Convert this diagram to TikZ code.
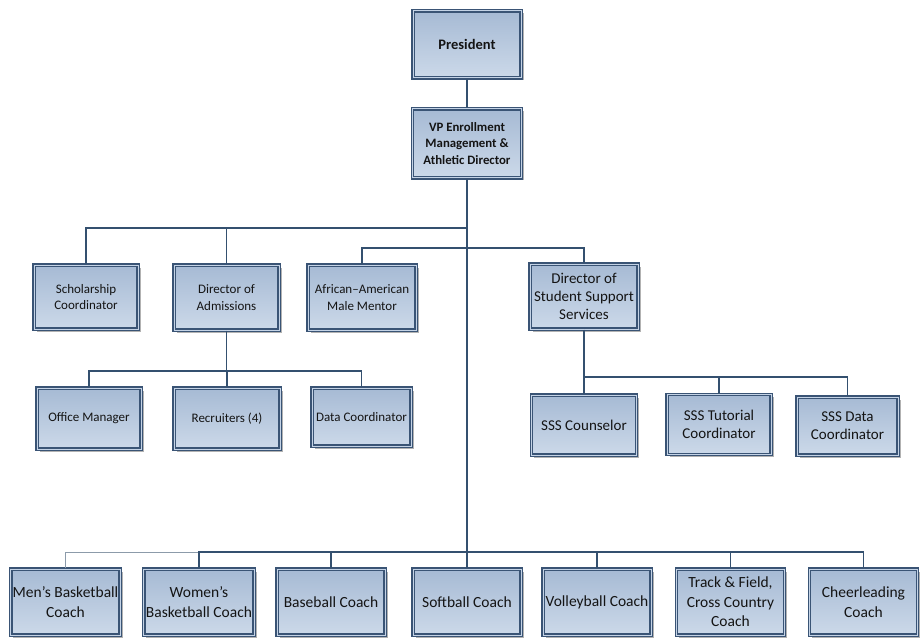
\documentclass[tikz,border=0pt]{standalone}
\usepackage{fontspec}
\setmainfont{Carlito}
\usetikzlibrary{shadows}
\definecolor{boxedge}{HTML}{3A5475}
\definecolor{boxcore}{HTML}{C4D3E6}
\definecolor{filltop}{HTML}{A6BAD4}
\definecolor{fillbot}{HTML}{CCD9E9}
\definecolor{linkcol}{HTML}{34506F}
\definecolor{faintcol}{HTML}{8C9BAA}
\tikzset{
  orgbox/.style={draw=boxedge, line width=1.3pt, double=boxcore, double distance=1pt,
    top color=filltop, bottom color=fillbot,
    drop shadow={shadow xshift=2.5pt, shadow yshift=-2.5pt, fill=black!50, opacity=0.6},
    align=center, inner sep=2pt, text=black!92},
  topbox/.style={orgbox, minimum width=108pt, minimum height=67pt, font=\fontsize{14.5}{17}\selectfont\bfseries},
  vpbox/.style={orgbox, minimum width=109pt, minimum height=69pt, font=\fontsize{12.8}{16.5}\selectfont\bfseries},
  midbox/.style={orgbox, minimum width=104pt, minimum height=64pt, font=\fontsize{13}{16.5}\selectfont},
  bigbox/.style={orgbox, minimum width=105pt, minimum height=60pt, font=\fontsize{15}{18}\selectfont},
  coachbox/.style={orgbox, minimum width=108pt, minimum height=66pt, font=\fontsize{15.5}{19.5}\selectfont},
  link/.style={draw=linkcol, line width=1.4pt},
  faintlink/.style={draw=faintcol, line width=1pt}
}
\begin{document}
\begin{tikzpicture}[x=1pt,y=-1pt]
\useasboundingbox (0,0) rectangle (921,639);
\fill[white] (0,0) rectangle (921,639);

% executive level
\node[topbox] (pres) at (467,44.5) {President};
\node[vpbox]  (vp)   at (467,143.5) {VP Enrollment\\Management \&\\Athletic Director};

% directors and coordinators
\node[midbox] (schol) at (86,297) {Scholarship\\Coordinator};
\node[midbox, minimum width=105pt, minimum height=65pt] (adm) at (226.5,297.5) {Director of\\Admissions};
\node[midbox, minimum width=108pt, minimum height=65pt] (afr) at (362,297.5) {African--American\\Male Mentor};
\node[bigbox, minimum width=108pt, minimum height=65pt] (sss) at (584,296.5) {Director of\\Student Support\\Services};

% admissions staff
\node[midbox, minimum width=104pt, minimum height=61pt] (offm) at (89,418.5) {Office Manager};
\node[midbox, minimum width=106pt, minimum height=61pt] (rec) at (227,418.5) {Recruiters (4)};
\node[midbox, minimum width=99pt, minimum height=58pt] (datac) at (361.5,417) {Data Coordinator};

% student support staff
\node[bigbox] (sssc) at (584,425) {SSS Counselor};
\node[bigbox, minimum width=104pt] (ssst) at (719,424.5) {SSS Tutorial\\Coordinator};
\node[bigbox, minimum width=101pt, minimum height=58pt] (sssd) at (847.5,426) {SSS Data\\Coordinator};

% coaching staff
\node[coachbox] (men)    at (65.5,602)  {Men’s Basketball\\Coach};
\node[coachbox] (women)  at (199,602)   {Women’s\\Basketball Coach};
\node[coachbox] (base)   at (331,602)   {Baseball Coach};
\node[coachbox] (soft)   at (467,602)   {Softball Coach};
\node[coachbox] (volley) at (597,602)   {Volleyball Coach};
\node[coachbox] (track)  at (730.5,602) {Track \& Field,\\Cross Country\\Coach};
\node[coachbox] (cheer)  at (863.5,602) {Cheerleading\\Coach};

% junctions of the connector tree
\coordinate (j1) at (467,228);
\coordinate (j2) at (467,248);
\coordinate (j3) at (226.5,371);
\coordinate (j4) at (584,377);
\coordinate (j5) at (467,552);

% connectors
\draw[link] (pres) -- (vp);
\draw[link] (vp) -- (soft);
\draw[link] (j1) -| (schol.north);
\draw[link] (adm.north) -- (adm.north |- j1);
\draw[link] (afr.north) |- (j2) -| (sss.north);
\draw[link] (adm.south) -- (j3);
\draw[link] (offm.north) |- (j3) -| (datac.north);
\draw[link] (rec.north) -- (rec.north |- j3);
\draw[link] (sss.south) -- (sssc.north);
\draw[link] (j4) -| (sssd.north);
\draw[link] (ssst.north) -- (ssst.north |- j4);
\draw[faintlink] (men.north) |- (women.north |- j5);
\draw[link] (women.north) |- (j5) -| (cheer.north);
\draw[link] (base.north) -- (base.north |- j5);
\draw[link] (volley.north) -- (volley.north |- j5);
\draw[link] (track.north) -- (track.north |- j5);
\end{tikzpicture}
\end{document}
